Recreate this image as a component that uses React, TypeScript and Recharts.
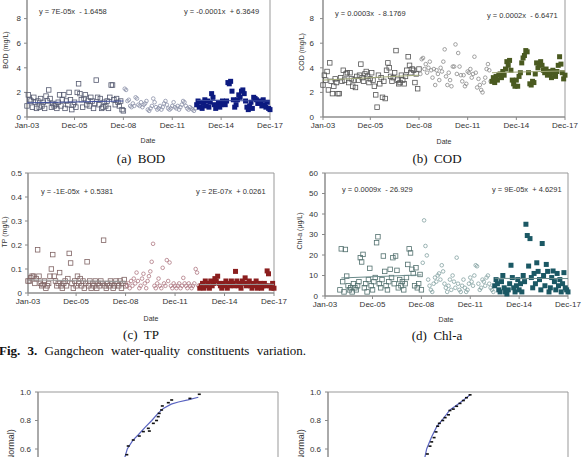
import React from 'react';
import { ScatterChart, Scatter, XAxis, YAxis, ReferenceArea } from 'recharts';

const FONT = '"Liberation Sans", Arial, sans-serif';
const SERIF = '"Liberation Serif", "Times New Roman", serif';
const AX = '#888';
const BOX = '#999';

// ---- axis ticks ----
const xTickMonths = [0, 35, 71, 107, 143, 179];
const xTickLabels = ['Jan-03', 'Dec-05', 'Dec-08', 'Dec-11', 'Dec-14', 'Dec-17'];

// ---- (a) BOD (mg/L) ----
const bodSquaresStart = 0;
const bodSquares = [
  0.9, 1.8, 1.4, 1.3, 0.8, 1.6, 1.2, 0.7, 1.3, 0.8, 1.5, 0.9,
  1.2, 0.7, 1.7, 1.3, 2.2, 1.5, 0.8, 1.1, 0.9, 1.0, 0.7, 1.2,
  1.8, 0.9, 1.4, 1.8, 0.7, 1.3, 1.0, 2.0, 1.4, 0.6, 1.0, 1.2,
  0.8, 2.0, 2.7, 1.9, 1.4, 0.8, 1.5, 1.8, 1.0, 1.3, 0.9, 1.6,
  1.3, 0.7, 1.1, 3.0, 1.6, 1.0, 1.5, 0.7, 0.8, 1.2, 0.9, 1.3,
  0.7, 1.6, 2.6, 2.6, 1.4, 1.0, 1.5, 1.2, 0.9, 1.3, 0.6, 0.5,
];
const bodCirclesStart = 72;
const bodCircles = [
  2.3, 2.2, 1.3, 1.4, 0.9, 0.8, 1.1, 0.9, 1.6, 1.5, 1.0, 0.9,
  1.2, 0.8, 1.0, 1.1, 1.3, 0.6, 0.5, 0.7, 0.9, 1.5, 1.2, 0.8,
  0.6, 0.7, 0.9, 0.6, 0.8, 1.1, 1.3, 1.0, 0.7, 0.6, 0.7, 0.9,
  1.2, 0.8, 0.7, 0.9, 0.6, 0.8, 1.0, 1.3, 1.2, 0.9, 0.7, 0.6,
  0.8, 0.7, 0.6, 0.5, 0.7,
];
const bodFilledStart = 125;
const bodFilled = [
  1.0, 1.3, 0.8, 1.2, 0.7, 1.1, 1.4, 0.9, 1.3, 0.8, 1.2, 1.9,
  1.6, 1.0, 0.7, 0.9, 1.2, 0.8, 1.0, 1.3, 1.1, 1.0, 1.3, 2.8,
  2.7, 2.9, 2.1, 1.4, 0.8, 1.0, 1.4, 1.8, 1.6, 2.1, 2.2, 1.9,
  1.3, 0.8, 0.6, 0.9, 1.2, 0.7, 1.6, 1.5, 1.4, 1.1, 1.3, 1.2,
  0.9, 1.4, 1.0, 0.8, 1.2, 0.7, 0.6,
];
const bodTrendEarly = [{ x: 0, y: 1.15 }, { x: 71, y: 1.3 }];
const bodTrendLate = [{ x: 125, y: 1.35 }, { x: 179, y: 1.3 }];

// ---- (b) COD (mg/L) ----
const codSquaresStart = 0;
const codSquares = [
  2.6, 3.4, 3.0, 3.7, 2.2, 4.4, 2.9, 1.9, 2.5, 3.1, 2.8, 1.9,
  1.9, 3.2, 2.9, 3.8, 3.0, 3.5, 3.6, 2.8, 3.6, 3.1, 2.5, 3.0,
  2.4, 3.3, 3.0, 3.4, 4.3, 3.2, 2.9, 3.5, 3.7, 3.3, 2.8, 3.1,
  3.6, 3.0, 2.5, 1.8, 0.8, 3.4, 2.7, 3.2, 1.6, 2.9, 1.5, 3.8,
  4.4, 4.0, 3.3, 2.9, 3.2, 3.6, 5.4, 3.0, 2.7, 2.8, 3.4, 3.0,
  2.7, 3.3, 3.8, 4.9, 4.2, 3.6, 3.9, 3.8, 2.8, 3.5, 2.3, 3.9,
];
const codCirclesStart = 72;
const codCircles = [
  3.5, 4.7, 4.8, 3.9, 4.3, 3.6, 4.0, 4.5, 3.8, 3.2, 3.9, 2.6,
  3.8, 3.5, 3.0, 4.0, 3.7, 4.5, 5.5, 3.3, 2.6, 3.6, 3.0, 2.5,
  4.1, 4.1, 5.9, 3.5, 5.2, 4.1, 3.4, 2.9, 3.4, 2.5, 2.7, 3.7,
  3.6, 3.9, 3.2, 3.5, 4.9, 3.6, 2.4, 3.1, 2.6, 2.2, 2.0, 2.8,
  3.2, 3.9, 4.3, 3.8, 2.9,
];
const codFilledStart = 125;
const codFilled = [
  2.9, 3.2, 2.8, 3.3, 3.0, 3.4, 3.5, 3.2, 3.7, 3.4, 3.9, 4.5,
  4.2, 4.6, 3.8, 3.0, 2.7, 2.5, 3.0, 2.5, 3.3, 3.6, 4.4, 4.8,
  5.0, 5.4, 5.3, 3.6, 2.7, 2.6, 2.9, 2.8, 3.5, 4.4, 4.0, 4.3,
  4.5, 4.2, 3.8, 3.6, 3.9, 3.4, 3.7, 3.5, 3.2, 3.8, 3.6, 3.3,
  3.7, 4.2, 4.9, 4.3, 3.6, 3.1, 3.4,
];
const codTrendEarly = [{ x: 0, y: 3.0 }, { x: 71, y: 3.4 }];
const codTrendLate = [{ x: 125, y: 3.6 }, { x: 179, y: 3.75 }];

// ---- (c) TP (mg/L) ----
const tpSquaresStart = 0;
const tpSquares = [
  0.05, 0.05, 0.063, 0.07, 0.07, 0.04, 0.06, 0.18, 0.07, 0.04, 0.03, 0.035,
  0.05, 0.02, 0.03, 0.04, 0.07, 0.1, 0.16, 0.07, 0.05, 0.03, 0.04, 0.085,
  0.03, 0.02, 0.04, 0.05, 0.03, 0.06, 0.165, 0.125, 0.04, 0.02, 0.05, 0.03,
  0.07, 0.04, 0.06, 0.03, 0.05, 0.02, 0.04, 0.13, 0.03, 0.05, 0.02, 0.04,
  0.03, 0.05, 0.02, 0.04, 0.03, 0.05, 0.04, 0.22, 0.03, 0.02, 0.04, 0.03,
  0.05, 0.04, 0.02, 0.03, 0.05, 0.04, 0.03, 0.05, 0.02, 0.04, 0.056, 0.03,
];
const tpCirclesStart = 72;
const tpCircles = [
  0.03, 0.04, 0.02, 0.05, 0.03, 0.06, 0.04, 0.085, 0.05, 0.02, 0.03, 0.06,
  0.08, 0.04, 0.02, 0.05, 0.07, 0.09, 0.13, 0.205, 0.03, 0.02, 0.04, 0.06,
  0.03, 0.02, 0.105, 0.04, 0.03, 0.137, 0.05, 0.127, 0.03, 0.02, 0.04, 0.03,
  0.02, 0.03, 0.04, 0.02, 0.03, 0.063, 0.04, 0.03, 0.02, 0.04, 0.03, 0.02,
  0.03, 0.04, 0.1, 0.085, 0.03,
];
const tpFilledStart = 125;
const tpFilled = [
  0.02, 0.03, 0.04, 0.02, 0.05, 0.03, 0.04, 0.02, 0.05, 0.03, 0.04, 0.06,
  0.05, 0.07, 0.04, 0.03, 0.02, 0.04, 0.03, 0.05, 0.02, 0.04, 0.03, 0.05,
  0.04, 0.03, 0.09, 0.05, 0.03, 0.04, 0.02, 0.05, 0.04, 0.063, 0.03, 0.04,
  0.05, 0.03, 0.02, 0.04, 0.03, 0.05, 0.02, 0.03, 0.04, 0.02, 0.03, 0.04,
  0.03, 0.092, 0.08, 0.03, 0.02, 0.04, 0.02,
];
const tpTrendEarly = [{ x: 0, y: 0.055 }, { x: 71, y: 0.047 }];
const tpTrendLate = [{ x: 125, y: 0.035 }, { x: 179, y: 0.036 }];

// ---- (d) Chl-a (ug/L) ----
const chlSquaresStart = 11;
const chlSquares = [
  3, 23, 7, 2, 22.7, 9.7, 5, 3, 4, 2, 6, 4, 3,
  5, 7, 18.7, 16.6, 20.3, 4, 6, 2, 8, 13.5, 5, 3,
  7, 9, 26, 28.9, 6, 4, 8, 19.5, 12, 5, 3, 7,
  13, 9, 18.7, 6, 19.5, 12.5, 4, 8, 5, 7, 3, 6,
  9, 15.4, 23, 21, 13, 11, 5, 13.8, 4, 6, 10.5, 3,
];
const chlCirclesStart = 72;
const chlCircles = [
  16.2, 36.9, 24.4, 19.8, 8, 5, 3, 2, 6, 9, 7, 10,
  11, 8, 15, 12, 6, 4, 2, 5, 8, 3, 10, 7,
  4, 18.7, 6, 3, 2, 5, 8, 4, 2, 3, 6, 9,
  7, 5, 10, 15, 14.5, 6, 3, 4, 8, 7, 5, 9,
  10, 6, 4, 3, 2,
];
const chlFilledStart = 125;
const chlFilled = [
  5, 8, 6, 3, 2, 7, 10, 4, 2, 1, 3, 6,
  15, 9, 4, 2, 5, 8, 3, 6, 2, 10, 7, 35,
  29.5, 14.6, 28, 9, 4, 11, 6, 16.2, 12, 8, 3, 25.6,
  10, 5, 15.4, 12, 2, 4, 9, 12.2, 7, 3, 11, 5,
  8, 2, 6, 11.4, 4, 3, 2,
];
const chlTrendEarly = [{ x: 12, y: 8.8 }, { x: 71, y: 10.3 }];
const chlTrendLate = [{ x: 125, y: 8.6 }, { x: 179, y: 8.5 }];

// ---- bottom probability plots ----
const probLeftCurve = [
  { x: 35.5, y: 0.5 }, { x: 36.5, y: 0.56 }, { x: 37.2, y: 0.6 }, { x: 39.5, y: 0.66 },
  { x: 41.8, y: 0.7 }, { x: 44.5, y: 0.75 }, { x: 47.4, y: 0.8 }, { x: 50.0, y: 0.85 },
  { x: 52.2, y: 0.885 }, { x: 55.5, y: 0.915 }, { x: 58.5, y: 0.93 }, { x: 62.5, y: 0.945 },
  { x: 66.8, y: 0.963 },
];
const probLeftDots = [
  { x: 37.0, y: 0.56 }, { x: 37.6, y: 0.621 }, { x: 39.7, y: 0.663 }, { x: 42.2, y: 0.691 },
  { x: 43.9, y: 0.722 }, { x: 45.97, y: 0.745 }, { x: 46.4, y: 0.726 }, { x: 48.06, y: 0.78 },
  { x: 49.4, y: 0.8 }, { x: 50.1, y: 0.827 }, { x: 50.5, y: 0.85 }, { x: 51.5, y: 0.874 },
  { x: 51.8, y: 0.902 }, { x: 54.3, y: 0.925 }, { x: 55.7, y: 0.944 }, { x: 63.3, y: 0.955 },
  { x: 67.2, y: 0.984 },
];
const probRightCurve = [
  { x: 39.8, y: 0.5 }, { x: 40.4, y: 0.544 }, { x: 41.1, y: 0.6 }, { x: 43.2, y: 0.686 },
  { x: 45.3, y: 0.757 }, { x: 47.4, y: 0.8 }, { x: 50.8, y: 0.874 }, { x: 55.0, y: 0.925 },
  { x: 59.2, y: 0.98 },
];
const probRightDots = [
  { x: 41.4, y: 0.565 }, { x: 42.5, y: 0.62 }, { x: 43.2, y: 0.65 }, { x: 44.2, y: 0.68 },
  { x: 45.0, y: 0.72 }, { x: 45.7, y: 0.76 }, { x: 46.4, y: 0.78 }, { x: 47.8, y: 0.8 },
  { x: 48.8, y: 0.82 }, { x: 50.2, y: 0.84 }, { x: 50.8, y: 0.87 }, { x: 52.2, y: 0.88 },
  { x: 53.6, y: 0.9 }, { x: 55.0, y: 0.92 }, { x: 56.4, y: 0.94 }, { x: 57.7, y: 0.96 },
  { x: 59.2, y: 0.98 },
];
const probTicks = [0.6, 0.8, 1.0];

type Pt = { x: number; y: number };
const pts = (start: number, vals: number[]): Pt[] => vals.map((v, i) => ({ x: start + i, y: v }));

const openSquare = (color: string, size: number) => (props: any) => {
  const { cx, cy } = props;
  if (cx == null || cy == null) return <g />;
  return <rect x={cx - size / 2} y={cy - size / 2} width={size} height={size} fill="none" stroke={color} strokeWidth={0.8} />;
};
const openCircle = (color: string, r: number) => (props: any) => {
  const { cx, cy } = props;
  if (cx == null || cy == null) return <g />;
  return <circle cx={cx} cy={cy} r={r} fill="none" stroke={color} strokeWidth={0.8} />;
};
const filledSquare = (color: string, size: number) => (props: any) => {
  const { cx, cy } = props;
  if (cx == null || cy == null) return <g />;
  return <rect x={cx - size / 2} y={cy - size / 2} width={size} height={size} fill={color} />;
};
const dash = (props: any) => {
  const { cx, cy } = props;
  if (cx == null || cy == null) return <g />;
  return <rect x={cx - 1.5} y={cy - 0.8} width={3} height={1.6} fill="#111" />;
};
const noShape = () => <g />;

type PanelProps = {
  left: number; top: number; width: number; height: number;
  margin: { top: number; right: number; bottom: number; left: number };
  yWidth: number; yTickMargin: number;
  yDomain: [number, number]; yTicks: number[]; yFmt: (v: number) => string;
  s1: Pt[]; s2: Pt[]; s3: Pt[]; t1: Pt[]; t2: Pt[];
  c1: string; c2: string; c3: string; ct: string;
};

const tickStyle = { fontSize: 8, fill: '#333', fontFamily: FONT };

function Panel(p: PanelProps) {
  return (
    <div style={{ position: 'absolute', left: p.left, top: p.top }}>
      <ScatterChart width={p.width} height={p.height} margin={p.margin}>
        <XAxis
          type="number" dataKey="x" domain={[0, 179]} ticks={xTickMonths} interval={0}
          tickFormatter={(v: number) => xTickLabels[xTickMonths.indexOf(v)] ?? ''}
          height={25} tickSize={3} tickMargin={2}
          axisLine={{ stroke: AX }} tickLine={{ stroke: AX }} tick={tickStyle}
        />
        <YAxis
          type="number" dataKey="y" domain={p.yDomain} ticks={p.yTicks} interval={0}
          tickFormatter={p.yFmt} width={p.yWidth} tickSize={3} tickMargin={p.yTickMargin}
          axisLine={{ stroke: AX }} tickLine={{ stroke: AX }} tick={tickStyle}
        />
        <ReferenceArea x1={0} x2={179} y1={p.yDomain[0]} y2={p.yDomain[1]} fill="none" fillOpacity={0} stroke={BOX} strokeWidth={1} />
        <Scatter data={p.s1} shape={openSquare(p.c1, 4.5)} isAnimationActive={false} />
        <Scatter data={p.s2} shape={openCircle(p.c2, 1.8)} isAnimationActive={false} />
        <Scatter data={p.s3} shape={filledSquare(p.c3, 5)} isAnimationActive={false} />
        <Scatter data={p.t1} shape={noShape} line={{ stroke: p.ct, strokeWidth: 1 }} lineType="joint" isAnimationActive={false} />
        <Scatter data={p.t2} shape={noShape} line={{ stroke: p.ct, strokeWidth: 1 }} lineType="joint" isAnimationActive={false} />
      </ScatterChart>
    </div>
  );
}

type ProbProps = { left: number; width: number; right: number; curve: Pt[]; dots: Pt[] };
function ProbPanel(p: ProbProps) {
  return (
    <div style={{ position: 'absolute', left: p.left, top: 380 }}>
      <ScatterChart width={p.width} height={180} margin={{ top: 12, right: p.right, bottom: 25.5, left: 0 }}>
        <XAxis type="number" dataKey="x" domain={[0, 100]} hide />
        <YAxis
          type="number" dataKey="y" domain={[0, 1]} ticks={probTicks} interval={0}
          tickFormatter={(v: number) => v.toFixed(1)} width={38} tickSize={3} tickMargin={4}
          axisLine={{ stroke: AX }} tickLine={{ stroke: AX }} tick={tickStyle}
        />
        <ReferenceArea x1={0} x2={100} y1={0} y2={1} fill="none" fillOpacity={0} stroke={BOX} strokeWidth={1} />
        <Scatter data={p.curve} shape={noShape} line={{ stroke: '#5a64c0', strokeWidth: 1.2 }} lineType="joint" isAnimationActive={false} />
        <Scatter data={p.dots} shape={dash} isAnimationActive={false} />
      </ScatterChart>
    </div>
  );
}

const Txt = ({ x, y, text, size = 8, color = '#333', anchor = 'left', family = FONT }: any) => (
  <div
    style={{
      position: 'absolute', left: x, top: y, fontSize: size, color, fontFamily: family,
      whiteSpace: 'pre', lineHeight: 1,
      transform: anchor === 'center' ? 'translate(-50%,-50%)' : 'translate(0,-50%)',
    }}
  >
    {text}
  </div>
);
const VTxt = ({ x, y, text, size = 7 }: any) => (
  <div
    style={{
      position: 'absolute', left: x, top: y, fontSize: size, color: '#333', fontFamily: FONT,
      whiteSpace: 'pre', lineHeight: 1, transform: 'translate(-50%,-50%) rotate(-90deg)',
    }}
  >
    {text}
  </div>
);

const intFmt = (v: number) => String(v);
const tpFmt = (v: number) => (v === 0 ? '0' : v.toFixed(1));

export default function App() {
  return (
    <div style={{ position: 'absolute', left: 0, top: 0, width: 582, height: 457, overflow: 'hidden', background: '#fff' }}>
      <Panel
        left={0} top={-20} width={290} height={162}
        margin={{ top: 14, right: 20, bottom: 0, left: 0 }} yWidth={27} yTickMargin={3}
        yDomain={[0, 10]} yTicks={[0, 2, 4, 6, 8]} yFmt={intFmt}
        s1={pts(bodSquaresStart, bodSquares)} s2={pts(bodCirclesStart, bodCircles)} s3={pts(bodFilledStart, bodFilled)}
        t1={bodTrendEarly} t2={bodTrendLate}
        c1="#555a70" c2="#8a90a8" c3="#0c1a80" ct="#4050a0"
      />
      <Panel
        left={290} top={-20} width={292} height={162}
        margin={{ top: 14, right: 17, bottom: 0, left: 0 }} yWidth={33} yTickMargin={6}
        yDomain={[0, 10]} yTicks={[0, 2, 4, 6, 8]} yFmt={intFmt}
        s1={pts(codSquaresStart, codSquares)} s2={pts(codCirclesStart, codCircles)} s3={pts(codFilledStart, codFilled)}
        t1={codTrendEarly} t2={codTrendLate}
        c1="#555" c2="#8a8a8a" c3="#4a5a20" ct="#a0a878"
      />
      <Panel
        left={0} top={160} width={290} height={158}
        margin={{ top: 13, right: 16, bottom: 0, left: 0 }} yWidth={28} yTickMargin={3}
        yDomain={[0, 0.5]} yTicks={[0, 0.1, 0.2, 0.3, 0.4, 0.5]} yFmt={tpFmt}
        s1={pts(tpSquaresStart, tpSquares)} s2={pts(tpCirclesStart, tpCircles)} s3={pts(tpFilledStart, tpFilled)}
        t1={tpTrendEarly} t2={tpTrendLate}
        c1="#806464" c2="#b07a84" c3="#8b1e1e" ct="#999"
      />
      <Panel
        left={290} top={160} width={292} height={161}
        margin={{ top: 13, right: 14, bottom: 0, left: 0 }} yWidth={35} yTickMargin={4}
        yDomain={[0, 60]} yTicks={[0, 10, 20, 30, 40, 50, 60]} yFmt={intFmt}
        s1={pts(chlSquaresStart, chlSquares)} s2={pts(chlCirclesStart, chlCircles)} s3={pts(chlFilledStart, chlFilled)}
        t1={chlTrendEarly} t2={chlTrendLate}
        c1="#52706e" c2="#84a2a2" c3="#1b5864" ct="#6a8a8a"
      />
      <ProbPanel left={0} width={290} right={12} curve={probLeftCurve} dots={probLeftDots} />
      <ProbPanel left={290} width={292} right={14} curve={probRightCurve} dots={probRightDots} />

      {/* trend equations */}
      <Txt x={39} y={12} text="y = 7E-05x  - 1.6458" size={7.5} />
      <Txt x={184} y={12} text="y = -0.0001x  + 6.3649" size={7.5} />
      <Txt x={335} y={14} text="y = 0.0003x  - 8.1769" size={7.5} />
      <Txt x={487} y={16} text="y = 0.0002x  - 6.6471" size={7.5} />
      <Txt x={41} y={192} text="y = -1E-05x  + 0.5381" size={7.5} />
      <Txt x={196} y={192} text="y = 2E-07x  + 0.0261" size={7.5} />
      <Txt x={342} y={190} text="y = 0.0009x  - 26.929" size={7.5} />
      <Txt x={492} y={190} text="y = 9E-05x  + 4.6291" size={7.5} />

      {/* axis titles */}
      <VTxt x={5} y={50} text="BOD (mg/L)" />
      <VTxt x={301} y={52} text="COD (mg/L)" />
      <VTxt x={4} y={232} text="TP (mg/L)" />
      <VTxt x={299} y={231} text="Chl-a (μg/L)" />
      <VTxt x={11} y={469} text="Probability (Normal)" size={9} />
      <VTxt x={301} y={469} text="Probability (Normal)" size={9} />
      <Txt x={148} y={140} text="Date" size={7} anchor="center" />
      <Txt x={444} y={141} text="Date" size={7} anchor="center" />
      <Txt x={151} y={318} text="Date" size={7} anchor="center" />
      <Txt x={446} y={319} text="Date" size={7} anchor="center" />

      {/* captions */}
      <Txt x={141} y={158} text="(a)  BOD" size={13} color="#111" anchor="center" family={SERIF} />
      <Txt x={437} y={158} text="(b)  COD" size={13} color="#111" anchor="center" family={SERIF} />
      <Txt x={141} y={334} text="(c)  TP" size={13} color="#111" anchor="center" family={SERIF} />
      <Txt x={437} y={335} text="(d)  Chl-a" size={13} color="#111" anchor="center" family={SERIF} />
      <div
        style={{
          position: 'absolute', left: -1, top: 350, transform: 'translate(0,-50%)', fontFamily: SERIF,
          fontSize: 13, color: '#111', whiteSpace: 'pre', wordSpacing: 4, lineHeight: 1,
        }}
      >
        <b>Fig. 3.</b> Gangcheon water-quality constituents variation.
      </div>
    </div>
  );
}
